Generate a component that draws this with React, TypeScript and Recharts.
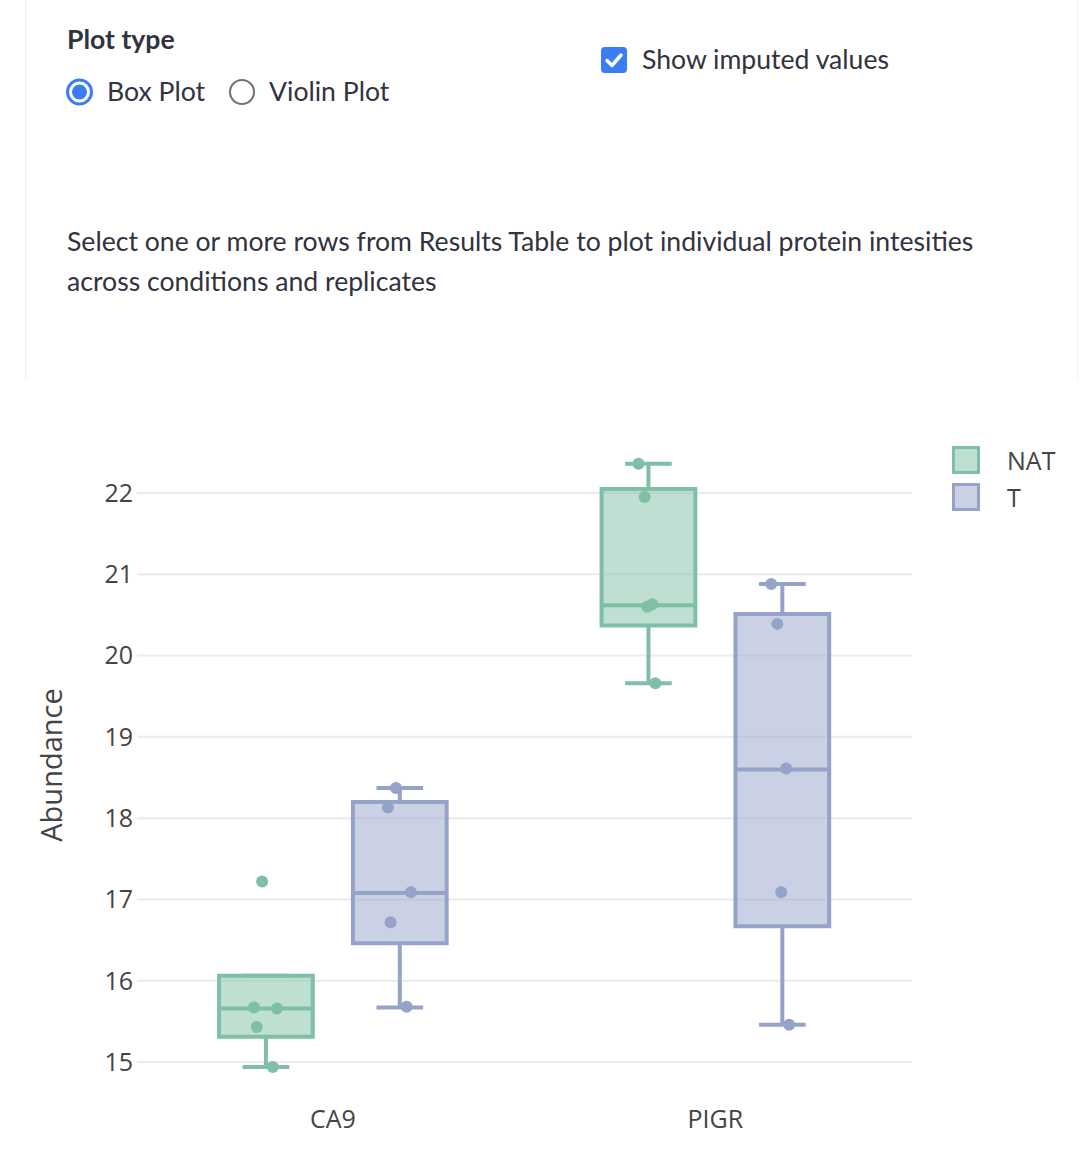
import React from 'react';
import {
  ScatterChart,
  Scatter,
  XAxis,
  YAxis,
  CartesianGrid,
  ReferenceArea,
  ReferenceLine,
  Legend,
} from 'recharts';

// ---------- data ----------
const categories = ['CA9', 'PIGR'];
const seriesNames = ['NAT', 'T'];
const yTicks = [15, 16, 17, 18, 19, 20, 21, 22];

// box statistics per category (CA9, PIGR)
const natLowerWhisker = [14.94, 19.66];
const natQ1 = [15.31, 20.37];
const natMedian = [15.66, 20.62];
const natQ3 = [16.06, 22.05];
const natUpperWhisker = [16.06, 22.36];

const tLowerWhisker = [15.67, 15.46];
const tQ1 = [16.46, 16.67];
const tMedian = [17.08, 18.6];
const tQ3 = [18.2, 20.51];
const tUpperWhisker = [18.37, 20.88];

// individual replicate values
const natCA9Values = [17.22, 15.67, 15.66, 15.43, 14.94];
const natPIGRValues = [22.36, 21.95, 20.6, 20.63, 19.66];
const tCA9Values = [18.37, 18.13, 17.09, 16.72, 15.68];
const tPIGRValues = [20.88, 20.39, 18.61, 17.09, 15.46];

// horizontal jitter of the points (category units)
const natCA9Jitter = [-0.01, -0.031, 0.029, -0.024, 0.018];
const natPIGRJitter = [-0.026, -0.01, -0.003, 0.01, 0.018];
const tCA9Jitter = [-0.01, -0.031, 0.029, -0.024, 0.018];
const tPIGRJitter = [-0.029, -0.013, 0.01, -0.003, 0.018];

// ---------- styles ----------
const lineColors = ['#7fbfa5', '#95a3c9'];
const fillColors = ['#bfdfd2', '#cad1e4'];
const groupOffset = [-0.175, 0.175];
const boxHalf = 0.1225;
const capHalf = 0.061;
const LW = 4;

const boxes = [
  { lower: natLowerWhisker, q1: natQ1, med: natMedian, q3: natQ3, upper: natUpperWhisker },
  { lower: tLowerWhisker, q1: tQ1, med: tMedian, q3: tQ3, upper: tUpperWhisker },
];
const pointValues = [
  [natCA9Values, natPIGRValues],
  [tCA9Values, tPIGRValues],
];
const pointJitter = [
  [natCA9Jitter, natPIGRJitter],
  [tCA9Jitter, tPIGRJitter],
];

const scatterData = seriesNames.map((_, g) => {
  const rows: { x: number; y: number }[] = [];
  categories.forEach((_, c) => {
    pointValues[g][c].forEach((v, i) => {
      rows.push({ x: c + 0.5 + groupOffset[g] + pointJitter[g][c][i], y: v });
    });
  });
  return rows;
});

const uiFont = 'Lato, "Noto Sans", sans-serif';
const plotFont = '"Open Sans", sans-serif';
const textColor = '#31333f';
const uiSize = 26.6;

function LegendContent() {
  return (
    <div style={{ fontFamily: plotFont }}>
      {seriesNames.map((n, g) => (
        <div key={n} style={{ height: 37, display: 'flex', alignItems: 'center' }}>
          <svg width={30} height={30} style={{ display: 'block' }}>
            <rect x={2.5} y={2.5} width={25} height={25} fill={fillColors[g]} stroke={lineColors[g]} strokeWidth={3} />
          </svg>
          <span style={{ marginLeft: 26, fontSize: 25, color: '#444', lineHeight: '30px' }}>{n}</span>
        </div>
      ))}
    </div>
  );
}

export default function App() {
  const boxElements: React.ReactNode[] = [];
  seriesNames.forEach((name, g) => {
    categories.forEach((cat, c) => {
      const cx = c + 0.5 + groupOffset[g];
      const b = boxes[g];
      const key = `${name}-${cat}`;
      const common = { stroke: lineColors[g], strokeWidth: LW, ifOverflow: 'visible' as const };
      boxElements.push(
        <ReferenceLine key={key + 'wu'} segment={[{ x: cx, y: b.q3[c] }, { x: cx, y: b.upper[c] }]} {...common} />,
        <ReferenceLine key={key + 'wl'} segment={[{ x: cx, y: b.q1[c] }, { x: cx, y: b.lower[c] }]} {...common} />,
        <ReferenceLine key={key + 'cu'} segment={[{ x: cx - capHalf, y: b.upper[c] }, { x: cx + capHalf, y: b.upper[c] }]} {...common} />,
        <ReferenceLine key={key + 'cl'} segment={[{ x: cx - capHalf, y: b.lower[c] }, { x: cx + capHalf, y: b.lower[c] }]} {...common} />,
        <ReferenceArea
          key={key + 'box'}
          x1={cx - boxHalf}
          x2={cx + boxHalf}
          y1={b.q1[c]}
          y2={b.q3[c]}
          fill={lineColors[g]}
          fillOpacity={0.5}
          stroke={lineColors[g]}
          strokeWidth={LW}
          ifOverflow="visible"
        />,
        <ReferenceLine key={key + 'med'} segment={[{ x: cx - boxHalf, y: b.med[c] }, { x: cx + boxHalf, y: b.med[c] }]} {...common} />
      );
    });
  });

  return (
    <div style={{ position: 'absolute', top: 0, left: 0, width: 1080, height: 1156, background: '#fff', overflow: 'hidden' }}>
      {/* top panel */}
      <div style={{ position: 'absolute', left: 25, top: 0, width: 1051, height: 380, borderLeft: '1px solid #f0f0f0', borderRight: '1px solid #f0f0f0' }} />
      <div style={{ position: 'absolute', left: 67, top: 19, fontFamily: uiFont, fontWeight: 700, fontSize: uiSize, lineHeight: '40px', color: textColor }}>
        Plot type
      </div>
      <svg style={{ position: 'absolute', left: 60, top: 73 }} width={40} height={40}>
        <circle cx={19.5} cy={19} r={12} fill="#fff" stroke="#3a7df5" strokeWidth={3} />
        <circle cx={19.5} cy={19} r={7.5} fill="#3a7df5" />
      </svg>
      <div style={{ position: 'absolute', left: 107, top: 71, fontFamily: uiFont, fontSize: uiSize, lineHeight: '40px', color: textColor }}>
        Box Plot
      </div>
      <svg style={{ position: 'absolute', left: 222, top: 73 }} width={40} height={40}>
        <circle cx={20} cy={19} r={12} fill="#fff" stroke="#707070" strokeWidth={2} />
      </svg>
      <div style={{ position: 'absolute', left: 269, top: 71, fontFamily: uiFont, fontSize: uiSize, lineHeight: '40px', color: textColor }}>
        Violin Plot
      </div>
      <svg style={{ position: 'absolute', left: 601, top: 47 }} width={26} height={26}>
        <rect x={0} y={0} width={26} height={26} rx={4} fill="#3a7df5" />
        <path d="M6 13.5 L11 18.5 L20 8" fill="none" stroke="#fff" strokeWidth={3.5} strokeLinecap="round" strokeLinejoin="round" />
      </svg>
      <div style={{ position: 'absolute', left: 642, top: 39, fontFamily: uiFont, fontSize: uiSize, lineHeight: '40px', color: textColor }}>
        Show imputed values
      </div>
      <div style={{ position: 'absolute', left: 67, top: 221, fontFamily: uiFont, fontSize: uiSize, lineHeight: '40px', color: textColor, whiteSpace: 'nowrap' }}>
        Select one or more rows from Results Table to plot individual protein intesities
        <br />
        across conditions and replicates
      </div>

      {/* chart */}
      <div style={{ position: 'absolute', left: 0, top: 400 }}>
        <ScatterChart width={1080} height={756} margin={{ top: 40, right: 168, bottom: 0, left: 0 }}>
          <CartesianGrid horizontal vertical={false} stroke="#ebebeb" strokeWidth={2} syncWithTicks />
          <XAxis
            type="number"
            dataKey="x"
            domain={[-0.012, 2.014]}
            ticks={[0.5, 1.5]}
            tickFormatter={(v: number) => categories[Math.floor(v)]}
            axisLine={false}
            tickLine={false}
            tickSize={0}
            tickMargin={20}
            height={66}
            allowDataOverflow
            tick={{ fill: '#444', fontSize: 25, fontFamily: plotFont }}
          />
          <YAxis
            type="number"
            dataKey="y"
            domain={[14.656, 22.652]}
            ticks={yTicks}
            axisLine={false}
            tickLine={false}
            tickSize={0}
            tickMargin={4}
            width={137}
            allowDataOverflow
            tick={{ fill: '#444', fontSize: 25, fontFamily: plotFont }}
            label={{
              content: (props: any) => {
                const vb = props.viewBox || { x: 0, y: 40, width: 137, height: 650 };
                const x = vb.x + 50;
                const y = vb.y + vb.height / 2;
                return (
                  <text
                    x={x}
                    y={y}
                    transform={`rotate(-90 ${x} ${y})`}
                    textAnchor="middle"
                    dominantBaseline="central"
                    fill="#444"
                    fontSize={29}
                    fontFamily={plotFont}
                  >
                    Abundance
                  </text>
                );
              },
            }}
          />
          {boxElements}
          <Legend
            layout="horizontal"
            verticalAlign="middle"
            align="center"
            content={() => <LegendContent />}
            wrapperStyle={{ position: 'absolute', top: 41, left: 951, width: 125, right: 'auto', bottom: 'auto' }}
          />
          {seriesNames.map((n, g) => (
            <Scatter
              key={n}
              name={n}
              data={scatterData[g]}
              fill={lineColors[g]}
              isAnimationActive={false}
              shape={(p: any) => <circle cx={p.cx} cy={p.cy} r={6} fill={lineColors[g]} />}
            />
          ))}
        </ScatterChart>
      </div>
    </div>
  );
}
